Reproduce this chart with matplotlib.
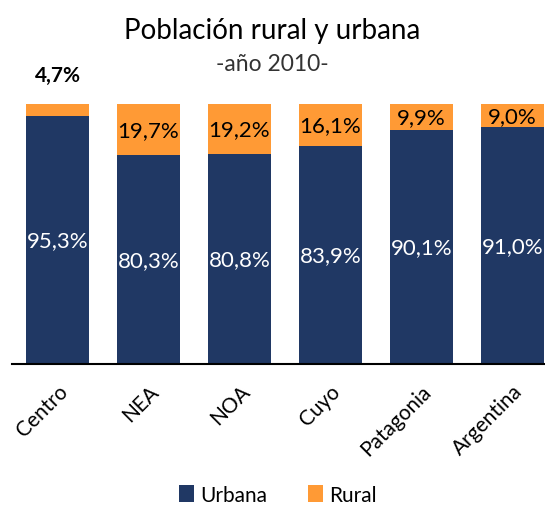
import numpy as np
import matplotlib
matplotlib.use('Agg')
import matplotlib.pyplot as plt

regiones = ['Centro', 'NEA', 'NOA', 'Cuyo', 'Patagonia', 'Argentina']
urbana = [95.3, 80.3, 80.8, 83.9, 90.1, 91.0]
rural = [4.7, 19.7, 19.2, 16.1, 9.9, 9.0]

plt.rcParams['font.family'] = ['Lato', 'DejaVu Sans']

col_urb = '#203864'
col_rur = '#FF9A35'

fig = plt.figure(figsize=(5.45, 5.10), dpi=100)
ax = fig.add_axes([12 / 545, 145 / 510, 533 / 545, 260 / 510])

x = np.arange(len(regiones))
b1 = ax.bar(x, urbana, width=0.69, color=col_urb, label='Urbana')
b2 = ax.bar(x, rural, width=0.69, bottom=urbana, color=col_rur, label='Rural')

for i in range(len(regiones)):
    ax.text(x[i], urbana[i] / 2, ('%.1f%%' % urbana[i]).replace('.', ','),
            ha='center', va='center', color='white', fontsize=16)
    txt = ('%.1f%%' % rural[i]).replace('.', ',')
    if rural[i] < 6:
        ax.text(x[i], 111, txt, ha='center', va='center', color='black',
                fontsize=15, fontweight='bold')
    else:
        ax.text(x[i], urbana[i] + rural[i] / 2, txt, ha='center', va='center',
                color='black', fontsize=16)

ax.set_xlim(-0.5, 5.36)
ax.set_ylim(0, 100)
ax.set_yticks([])
ax.set_xticks(x)
ax.set_xticklabels(regiones, rotation=45, ha='right', rotation_mode='anchor',
                   fontsize=15)
ax.tick_params(axis='x', length=0, pad=12)
for s in ['top', 'right', 'left']:
    ax.spines[s].set_visible(False)
ax.spines['bottom'].set_linewidth(1.5)
ax.spines['bottom'].set_color('black')

fig.text(0.5, 0.94, 'Población rural y urbana', ha='center', va='center', fontsize=20)
fig.text(0.5, 0.873, '-año 2010-', ha='center', va='center', fontsize=16.5, color='#333333')

fig.legend(handles=[b1, b2], loc='center', bbox_to_anchor=(0.51, 0.028),
           ncol=2, frameon=False, fontsize=15, handlelength=0.7, handleheight=0.9,
           handletextpad=0.3, columnspacing=2.0)

plt.savefig('out.png', dpi=100)
